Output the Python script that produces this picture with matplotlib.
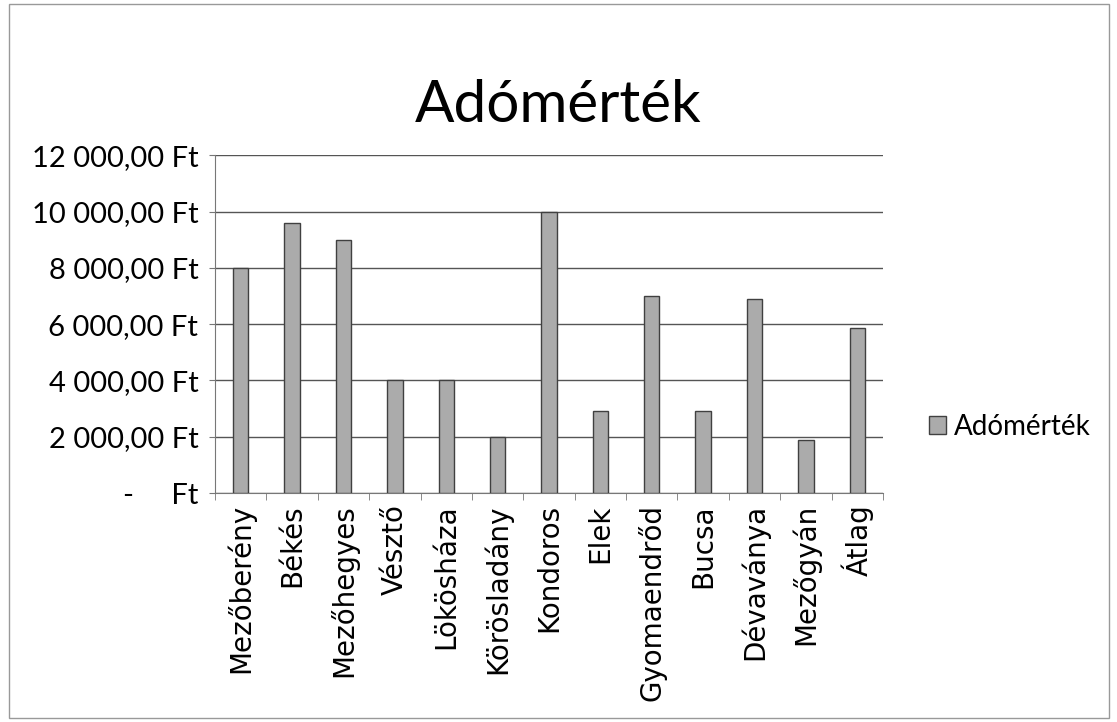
import matplotlib.pyplot as plt
import numpy as np

telepulesek = ['Mezőberény', 'Békés', 'Mezőhegyes', 'Vésztő', 'Lökösháza', 'Körösladány',
               'Kondoros', 'Elek', 'Gyomaendrőd', 'Bucsa', 'Dévaványa', 'Mezőgyán', 'Átlag']
adomertek = [8000, 9600, 9000, 4000, 4000, 2000, 10000, 2900, 7000, 2900, 6900, 1900, 5850]
y_ticks = [0, 2000, 4000, 6000, 8000, 10000, 12000]


def ft_label(v):
    if v == 0:
        return '-     Ft'
    return f'{v:,.2f}'.replace(',', ' ').replace('.', ',') + ' Ft'


plt.rcParams['font.family'] = ['Lato', 'DejaVu Sans']

fig = plt.figure(figsize=(11.17, 7.22), dpi=100)
ax = fig.add_axes([0.1925, 0.317, 0.598, 0.468])

x = np.arange(len(telepulesek))
ax.bar(x, adomertek, width=0.3, color='#ababab', edgecolor='#404040', linewidth=1.0,
       label='Adómérték', zorder=3)

ax.set_xlim(-0.5, len(telepulesek) - 0.5)
ax.set_ylim(0, 12000)
ax.set_yticks(y_ticks)
ax.set_yticklabels([ft_label(v) for v in y_ticks], fontsize=21)
ax.set_xticks(x)
ax.set_xticklabels(telepulesek, rotation=90, fontsize=20, family=['DejaVu Sans'])
ax.set_xticks(np.arange(-0.5, len(telepulesek)), minor=True)
ax.tick_params(axis='x', which='major', length=0, pad=8)
ax.tick_params(axis='x', which='minor', length=5, color='#777777')
ax.tick_params(axis='y', length=4, color='#777777', pad=8)

ax.grid(axis='y', color='#555555', linewidth=1.0, zorder=0)
for side in ['top', 'right']:
    ax.spines[side].set_visible(False)
ax.spines['left'].set_color('#777777')
ax.spines['bottom'].set_color('#777777')

fig.suptitle('Adómérték', fontsize=42, y=0.89)
fig.legend(loc='center left', bbox_to_anchor=(0.832, 0.409), frameon=False, fontsize=20,
           handlelength=0.6, handleheight=0.6, handletextpad=0.3,
           borderaxespad=0, borderpad=0)

fig.patches.append(plt.Rectangle((0.008, 0.005), 0.985, 0.99, transform=fig.transFigure,
                                 fill=False, edgecolor='#999999', linewidth=1))

fig.savefig('out.png', dpi=100)
